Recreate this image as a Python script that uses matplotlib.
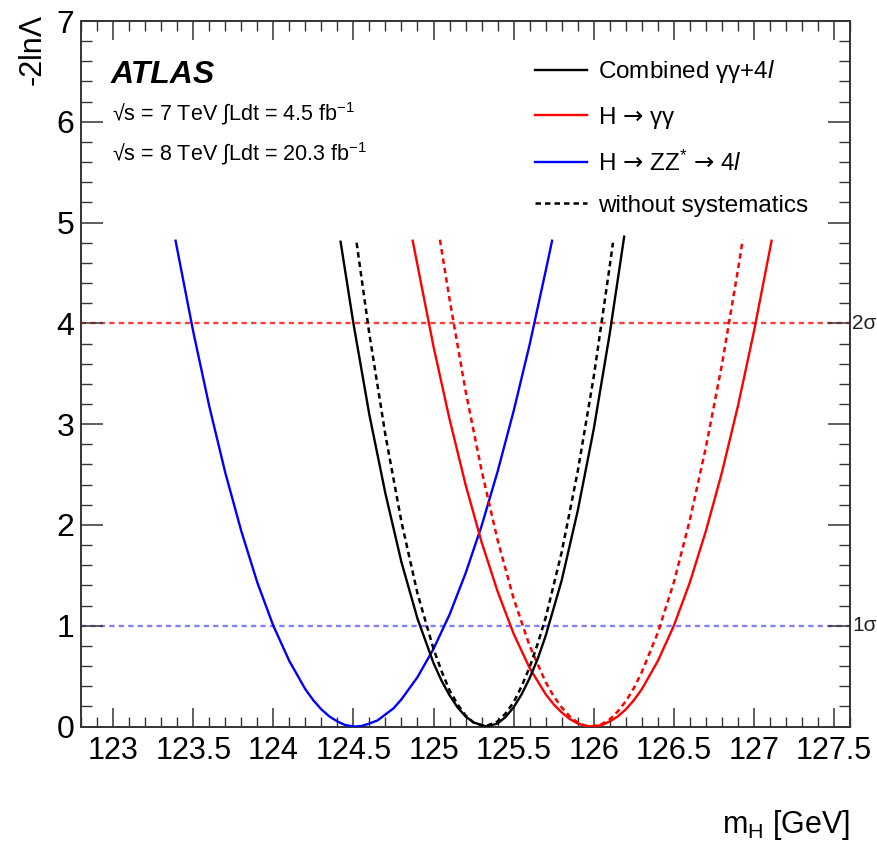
import matplotlib
matplotlib.use("Agg")
import matplotlib.pyplot as plt
import matplotlib.transforms as mtransforms
from matplotlib.ticker import MultipleLocator
from matplotlib.lines import Line2D

plt.rcParams['font.family'] = ['Liberation Sans', 'DejaVu Sans']
plt.rcParams['mathtext.fontset'] = 'custom'
plt.rcParams['mathtext.rm'] = 'Liberation Sans'
plt.rcParams['mathtext.it'] = 'Liberation Sans:italic'
plt.rcParams['mathtext.bf'] = 'Liberation Sans:bold'
plt.rcParams['mathtext.sf'] = 'DejaVu Sans'

# -2lnΛ scans
mh_4l = [123.39, 123.5, 123.6, 123.7, 123.8, 123.9, 124.0, 124.1, 124.2, 124.25, 124.3, 124.35,
         124.4, 124.45, 124.51, 124.55, 124.6, 124.65, 124.7, 124.75, 124.8, 124.9, 125.0,
         125.1, 125.2, 125.3, 125.4, 125.5, 125.6, 125.7, 125.74]
nll_4l = [4.82, 3.92, 3.18, 2.52, 1.94, 1.43, 1.00, 0.65, 0.37, 0.26, 0.17, 0.10,
          0.05, 0.014, 0.00, 0.005, 0.03, 0.06, 0.12, 0.18, 0.27, 0.49, 0.77,
          1.11, 1.52, 1.99, 2.53, 3.13, 3.79, 4.52, 4.82]

mh_comb = [124.42, 124.5, 124.6, 124.7, 124.8, 124.9, 125.0, 125.05, 125.1, 125.15, 125.2,
           125.25, 125.33, 125.4, 125.45, 125.5, 125.55, 125.6, 125.65, 125.7, 125.8,
           125.9, 126.0, 126.1, 126.19]
nll_comb = [4.81, 4.00, 3.09, 2.31, 1.63, 1.07, 0.63, 0.455, 0.31, 0.19, 0.10,
            0.04, 0.00, 0.03, 0.095, 0.19, 0.32, 0.48, 0.67, 0.90, 1.45,
            2.14, 2.95, 3.90, 4.86]

mh_comb_stat = [124.52, 124.6, 124.7, 124.8, 124.9, 125.0, 125.05, 125.1, 125.15, 125.2,
                125.25, 125.32, 125.4, 125.45, 125.5, 125.55, 125.6, 125.65, 125.7, 125.8,
                125.9, 126.0, 126.1, 126.12]
nll_comb_stat = [4.80, 3.89, 2.89, 2.03, 1.32, 0.77, 0.55, 0.36, 0.22, 0.11,
                 0.04, 0.00, 0.05, 0.13, 0.24, 0.40, 0.59, 0.82, 1.08, 1.73,
                 2.53, 3.47, 4.57, 4.80]

mh_gg = [124.87, 125.0, 125.1, 125.2, 125.3, 125.4, 125.5, 125.6, 125.7, 125.75, 125.8,
         125.85, 125.9, 125.95, 125.99, 126.05, 126.1, 126.15, 126.2, 126.25, 126.3,
         126.4, 126.5, 126.6, 126.7, 126.8, 126.9, 127.0, 127.11]
nll_gg = [4.82, 3.77, 3.05, 2.40, 1.83, 1.34, 0.92, 0.58, 0.32, 0.22, 0.14,
          0.075, 0.03, 0.006, 0.00, 0.014, 0.05, 0.10, 0.17, 0.26, 0.37,
          0.65, 1.00, 1.43, 1.94, 2.52, 3.18, 3.92, 4.82]

mh_gg_stat = [125.04, 125.1, 125.2, 125.3, 125.4, 125.5, 125.6, 125.7, 125.75, 125.8,
              125.85, 125.9, 125.95, 125.99, 126.05, 126.1, 126.15, 126.2, 126.25, 126.3,
              126.4, 126.5, 126.6, 126.7, 126.8, 126.9, 126.93]
nll_gg_stat = [4.83, 4.24, 3.33, 2.54, 1.85, 1.27, 0.80, 0.44, 0.30, 0.19,
               0.10, 0.04, 0.007, 0.00, 0.023, 0.07, 0.15, 0.25, 0.38, 0.54,
               0.93, 1.43, 2.05, 2.77, 3.59, 4.53, 4.83]

sigma_levels = [4, 1]
sigma_labels = ['2σ', '1σ']
sigma_colors = ['#ff3b3b', '#8080ff']

x_ticks = [123, 123.5, 124, 124.5, 125, 125.5, 126, 126.5, 127, 127.5]
x_ticklabels = ['123', '123.5', '124', '124.5', '125', '125.5', '126', '126.5', '127', '127.5']

arrow = r'$\mathsf{→}$'
legend_labels = [r'Combined γγ+4$\mathit{l}$', 'H ' + arrow + ' γγ',
                 'H ' + arrow + r' ZZ$^{*}$ ' + arrow + r' 4$\mathit{l}$', 'without systematics']

fig = plt.figure(figsize=(8.78, 8.44), dpi=100)
ax = fig.add_axes([0.0923, 0.1392, 0.8759, 0.8359])

# reference lines
tr = mtransforms.blended_transform_factory(ax.transAxes, ax.transData)
for lvl, lab, col in zip(sigma_levels, sigma_labels, sigma_colors):
    ax.axhline(lvl, color=col, lw=1.7, ls=(0, (2.2, 1.8)), zorder=1)
    ax.text(1.003, lvl, lab, transform=tr, ha='left', va='center', fontsize=15, color='#222222')

dash = (0, (2.2, 1.6))
ax.plot(mh_4l, nll_4l, color='#0000ff', lw=1.7, zorder=3)
ax.plot(mh_gg_stat, nll_gg_stat, color='#ff0000', lw=1.8, ls=dash, zorder=3)
ax.plot(mh_gg, nll_gg, color='#ff0000', lw=1.7, zorder=3)
ax.plot(mh_comb_stat, nll_comb_stat, color='black', lw=1.8, ls=dash, zorder=4)
ax.plot(mh_comb, nll_comb, color='black', lw=1.7, zorder=4)

ax.set_xlim(122.8, 127.6)
ax.set_ylim(0, 7)
ax.set_xticks(x_ticks)
ax.set_xticklabels(x_ticklabels)
ax.xaxis.set_minor_locator(MultipleLocator(0.1))
ax.yaxis.set_major_locator(MultipleLocator(1))
ax.yaxis.set_minor_locator(MultipleLocator(0.2))
ax.tick_params(which='both', direction='in', top=True, right=True, color='#333333')
ax.tick_params(axis='x', which='major', length=14, width=1.1, labelsize=22, pad=7)
ax.tick_params(axis='x', which='minor', length=7, width=1.0)
ax.tick_params(axis='y', which='major', length=16, width=1.1, labelsize=23, pad=5)
ax.tick_params(axis='y', which='minor', length=8, width=1.0)
for sp in ax.spines.values():
    sp.set_color('#333333')
    sp.set_linewidth(1.4)

fig.text(33 / 878, 1 - 14 / 844, '-2lnΛ', rotation=90, ha='center', va='top', fontsize=22)
fig.text(850 / 878, 1 - 833 / 844, r'm$_{\mathregular{H}}$ [GeV]', ha='right', va='baseline',
         fontsize=22)

# ATLAS label
ax.text(0.038, 0.912, 'ATLAS', transform=ax.transAxes, fontsize=23, fontweight='bold',
        fontstyle='italic', ha='left', va='baseline')
ax.text(0.04, 0.8597, r'√s = 7 TeV ∫Ldt = 4.5 fb$^{-1}$', transform=ax.transAxes,
        fontsize=15.5, ha='left', va='baseline')
ax.text(0.04, 0.803, r'√s = 8 TeV ∫Ldt = 20.3 fb$^{-1}$', transform=ax.transAxes,
        fontsize=15.5, ha='left', va='baseline')

handles = [Line2D([], [], color='black', lw=1.7),
           Line2D([], [], color='#ff0000', lw=1.7),
           Line2D([], [], color='#0000ff', lw=1.7),
           Line2D([], [], color='black', lw=1.8, ls=dash)]
ax.legend(handles, legend_labels, loc='upper left', bbox_to_anchor=(0.590, 0.947),
          frameon=False, fontsize=17.5, handlelength=2.14, handletextpad=0.45,
          labelspacing=0.8, borderpad=0, borderaxespad=0)

fig.savefig('out.png', dpi=100)
